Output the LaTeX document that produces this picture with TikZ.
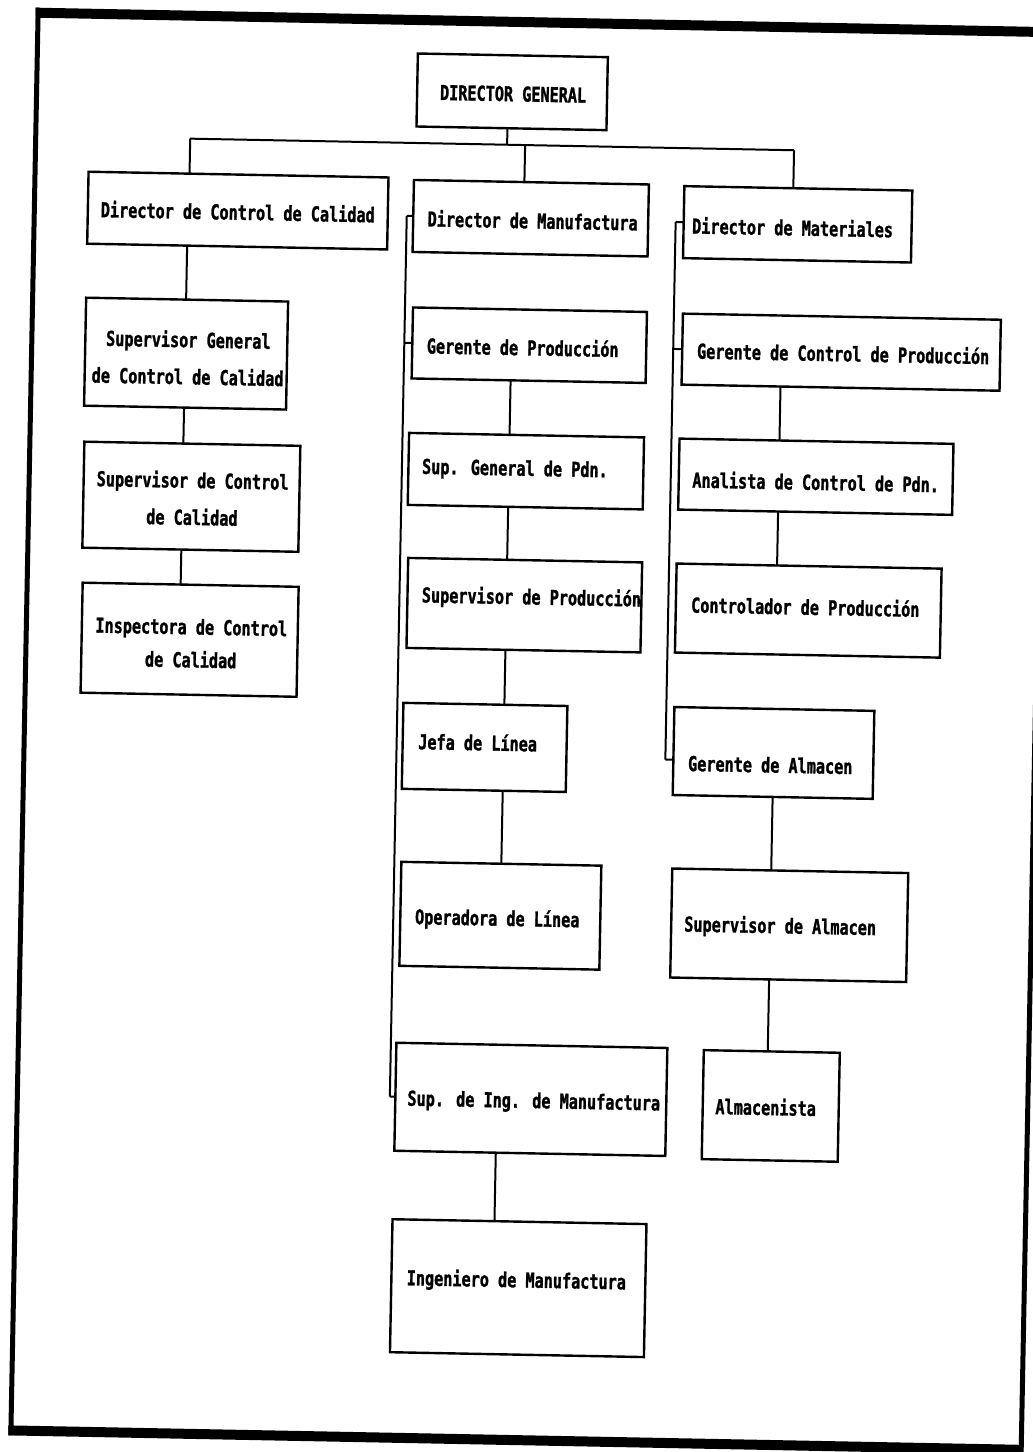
\documentclass[tikz,border=0pt]{standalone}
\usepackage{fontspec}
\newfontfamily\orgfont[FakeStretch=0.74, BoldFeatures={FakeBold=1.3}]{DejaVu Sans Mono}
\usetikzlibrary{calc}
\tikzset{
  box/.style={draw, line width=2.4pt, rectangle, inner sep=0pt, outer sep=0pt},
  lbl/.style={inner sep=0pt, align=center, font=\orgfont\bfseries\fontsize{20.5}{37}\selectfont},
  conn/.style={line width=2pt},
}
\newcommand\vlink[3]{\draw[conn] ($(#1.south west)!(#3)!(#1.south east)$) -- ($(#2.north west)!(#3)!(#2.north east)$);}
\begin{document}
\begin{tikzpicture}[x=1pt,y=-1pt]
\useasboundingbox[fill=white] (0,0) rectangle (1033,1452);
\begin{scope}[rotate around={-1.1:(516,726)}, transform shape]
% frame
\draw[line width=10pt] (22,22) -- (1037,22);
\draw[line width=5pt] (24.5,17) -- (24.5,1445);
\draw[line width=10pt] (22,1440) -- (1037,1440);
\draw[line width=5pt] (1035,17) -- (1035,1445);
% boxes
\node[box, minimum width=190pt, minimum height=73pt] (dg) at (500,92) {};
\node[box, minimum width=300pt, minimum height=72pt] (dcc) at (228,216) {};
\node[box, minimum width=235pt, minimum height=72pt] (dm) at (521,218) {};
\node[box, minimum width=228pt, minimum height=72pt] (dmat) at (788,219) {};
\node[box, minimum width=202pt, minimum height=108pt] (sgcc) at (179,360) {};
\node[box, minimum width=216pt, minimum height=106pt] (scc) at (187,503) {};
\node[box, minimum width=216pt, minimum height=110pt] (icc) at (188,646) {};
\node[box, minimum width=234pt, minimum height=71pt] (gp) at (522,345) {};
\node[box, minimum width=235pt, minimum height=72pt] (sgp) at (521,471) {};
\node[box, minimum width=234pt, minimum height=90pt] (sp) at (522,605) {};
\node[box, minimum width=164pt, minimum height=86pt] (jl) at (485,748) {};
\node[box, minimum width=200pt, minimum height=104pt] (ol) at (504,916) {};
\node[box, minimum width=271pt, minimum height=108pt] (sim) at (538,1099) {};
\node[box, minimum width=254pt, minimum height=133pt] (im) at (529,1288) {};
\node[box, minimum width=318pt, minimum height=71pt] (gcp) at (834,346) {};
\node[box, minimum width=274pt, minimum height=71pt] (acp) at (811,471) {};
\node[box, minimum width=265pt, minimum height=89pt] (cp) at (806,605) {};
\node[box, minimum width=200pt, minimum height=88pt] (ga) at (774,748) {};
\node[box, minimum width=236pt, minimum height=109pt] (sa) at (793,920) {};
\node[box, minimum width=136pt, minimum height=109pt] (alm) at (778,1101) {};
% texts
\node[lbl] (tdg) at (501,94) {DIRECTOR GENERAL};
\node[lbl] (tdcc) at (228,217) {Director de Control de Calidad};
\node[lbl] (tdm) at (523,220) {Director de Manufactura};
\node[lbl] (tdmat) at (783,222) {Director de Materiales};
\node[lbl] (tsgcc) at (181,364) {Supervisor General\\de Control de Calidad};
\node[lbl] (tscc) at (188,504.5) {Supervisor de Control\\de Calidad};
\node[lbl, font=\orgfont\bfseries\fontsize{20.5}{33}\selectfont] (ticc) at (189.5,649.5) {Inspectora de Control\\de Calidad};
\node[lbl] (tgp) at (515.5,347) {Gerente de Producción};
\node[lbl] (tsgp) at (510,470) {Sup. General de Pdn.};
\node[lbl] (tsp) at (529,598) {Supervisor de Producción};
\node[lbl] (tjl) at (478,743) {Jefa de Línea};
\node[lbl] (tol) at (501,920) {Operadora de Línea};
\node[lbl] (tsim) at (541,1102) {Sup. de Ing. de Manufactura};
\node[lbl] (tim) at (527,1281) {Ingeniero de Manufactura};
\node[lbl] (tgcp) at (836,347) {Gerente de Control de Producción};
\node[lbl] (tacp) at (811,476) {Analista de Control de Pdn.};
\node[lbl] (tcp) at (803,601) {Controlador de Producción};
\node[lbl] (tga) at (771,760) {Gerente de Almacen};
\node[lbl] (tsa) at (784,922) {Supervisor de Almacen};
\node[lbl] (talm) at (773,1102) {Almacenista};
% helper coordinates
\coordinate (b0) at (496,145);
\coordinate (b1) at (179,145);
\coordinate (b2) at (514,145);
\coordinate (b3) at (783,145);
\coordinate (lc) at (178,0);
\coordinate (mc) at (504,0);
\coordinate (rc) at (774,0);
\coordinate (ms1) at (397,0);
\coordinate (ms2) at (397,1400);
\coordinate (rs1) at (666,0);
\coordinate (rs2) at (666,1400);
\coordinate (gat) at ($(ga.north west)!0.6!(ga.south west)$);
% top level
\draw[conn] ($(dg.south west)!(b0)!(dg.south east)$) -- (b0);
\draw[conn] (b1) -- (b3);
\draw[conn] (b1) -- ($(dcc.north west)!(b1)!(dcc.north east)$);
\draw[conn] (b2) -- ($(dm.north west)!(b2)!(dm.north east)$);
\draw[conn] (b3) -- ($(dmat.north west)!(b3)!(dmat.north east)$);
% left column
\vlink{dcc}{sgcc}{lc}
\vlink{sgcc}{scc}{lc}
\vlink{scc}{icc}{lc}
% middle column
\draw[conn] ($(ms1)!(dm.west)!(ms2)$) -- ($(ms1)!(sim.west)!(ms2)$);
\draw[conn] ($(ms1)!(dm.west)!(ms2)$) -- (dm.west);
\draw[conn] ($(ms1)!(gp.west)!(ms2)$) -- (gp.west);
\draw[conn] ($(ms1)!(sim.west)!(ms2)$) -- (sim.west);
\vlink{gp}{sgp}{mc}
\vlink{sgp}{sp}{mc}
\vlink{sp}{jl}{mc}
\vlink{jl}{ol}{mc}
\vlink{sim}{im}{mc}
% right column
\draw[conn] ($(rs1)!(dmat.west)!(rs2)$) -- ($(rs1)!(gat)!(rs2)$);
\draw[conn] ($(rs1)!(dmat.west)!(rs2)$) -- (dmat.west);
\draw[conn] ($(rs1)!(gcp.west)!(rs2)$) -- (gcp.west);
\draw[conn] ($(rs1)!(gat)!(rs2)$) -- (gat);
\vlink{gcp}{acp}{rc}
\vlink{acp}{cp}{rc}
\vlink{ga}{sa}{rc}
\vlink{sa}{alm}{rc}
\end{scope}
\end{tikzpicture}
\end{document}
